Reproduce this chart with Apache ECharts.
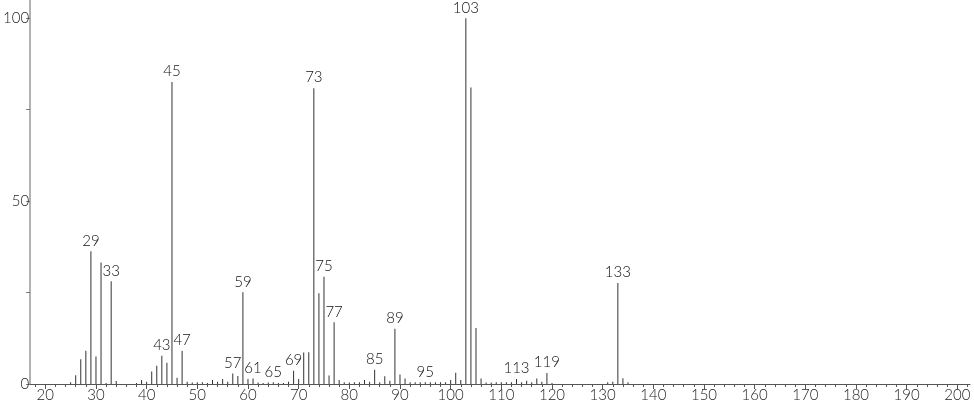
<!DOCTYPE html>
<html><head><meta charset="utf-8">
<script src="https://cdn.jsdelivr.net/npm/echarts@6/dist/echarts.min.js"></script>
<style>html,body{margin:0;padding:0;background:#fff}#c{width:974px;height:406px}</style>
</head><body><div id="c"></div>
<script>
const mz = [25,26,27,28,29,30,31,32,33,34,38,39,40,41,42,43,44,45,46,47,48,49,50,51,52,53,54,55,56,57,58,59,60,61,62,63,64,65,66,67,68,69,70,71,72,73,74,75,76,77,78,79,80,81,82,83,84,85,86,87,88,89,90,91,92,93,94,95,96,97,98,99,100,101,102,103,104,105,106,107,108,109,110,111,112,113,114,115,116,117,118,119,120,131,132,133,134,135];
const intensity = [0.5,2.4,6.8,9.1,36.3,7.5,33.2,0.3,28.1,0.8,0.3,1.1,0.6,3.4,5.0,7.7,5.8,82.6,1.7,9.1,0.6,0.4,0.5,0.5,0.3,1.1,0.6,1.4,0.6,2.9,2.2,25.1,1.4,1.5,0.4,0.3,0.4,0.5,0.3,0.3,0.6,3.6,1.4,8.6,8.7,80.9,24.8,29.3,2.3,16.9,1.1,0.5,0.4,0.5,0.5,1.1,0.6,3.9,0.5,2.1,0.9,15.1,2.6,1.5,0.5,0.5,0.5,0.5,0.5,0.5,0.5,0.5,1.1,3.1,1.1,100,81.1,15.3,1.5,0.4,0.4,0.5,0.5,0.5,0.5,1.4,0.5,0.9,0.5,1.5,0.6,3.0,0.3,0.5,0.6,27.6,1.6,0.5];
const labeledPeaks = [29,33,43,45,47,57,59,61,65,69,73,75,77,85,89,95,103,113,119,133];
const xTickLabels = [20,30,40,50,60,70,80,90,100,110,120,130,140,150,160,170,180,190,200];
const xMinorTicks = [18,22,24,26,28,32,34,36,38,42,44,46,48,52,54,56,58,62,64,66,68,72,74,76,78,82,84,86,88,92,94,96,98,102,104,106,108,112,114,116,118,122,124,126,128,132,134,136,138,142,144,146,148,152,154,156,158,162,164,166,168,172,174,176,178,182,184,186,188,192,194,196,198,202];
const yTickLabels = [0,50,100];
const yTicks = [0,25,50,75,100];

const font = 'Lato';
const data = mz.map((m,i)=>({
  value:[m,intensity[i]],
  label:{show: labeledPeaks.includes(m)}
}));

const chart = echarts.init(document.getElementById('c'));
chart.setOption({
  animation:false,
  grid:[{left:29,right:4,top:0,bottom:22}],
  xAxis:[{
    type:'value',min:17,max:202.5,
    axisLine:{lineStyle:{color:'#555',width:1}},
    axisTick:{customValues:xTickLabels,length:5,lineStyle:{color:'#555'}},
    axisLabel:{customValues:xTickLabels,color:'#222',fontFamily:font,fontWeight:300,fontSize:15,margin:4},
    splitLine:{show:false}
  },{
    type:'value',min:17,max:202.5,position:'bottom',
    axisLine:{show:false},
    axisTick:{customValues:xMinorTicks,length:3,lineStyle:{color:'#555'}},
    axisLabel:{show:false},
    splitLine:{show:false}
  }],
  yAxis:{
    type:'value',min:0,max:105,
    axisLine:{show:true,lineStyle:{color:'#999',width:1.5}},
    axisTick:{show:true,customValues:yTicks,length:4,lineStyle:{color:'#777'}},
    axisLabel:{customValues:yTickLabels,color:'#222',fontFamily:font,fontWeight:300,fontSize:15,margin:1},
    splitLine:{show:false}
  },
  series:[{
    type:'bar',xAxisIndex:0,barWidth:1,
    itemStyle:{color:'#333'},
    label:{position:'top',distance:3,color:'#111',fontFamily:font,fontWeight:300,fontSize:15,
      formatter:p=>String(p.value[0])},
    data:data
  }]
});
</script></body></html>
